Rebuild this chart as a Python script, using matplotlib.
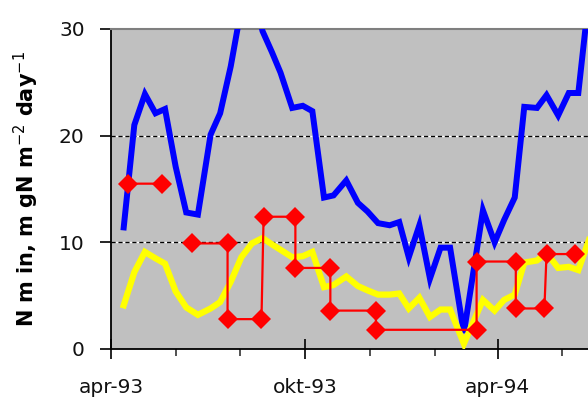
import numpy as np
import pandas as pd
import matplotlib
matplotlib.use("Agg")
import matplotlib.pyplot as plt
import matplotlib.dates as mdates
from matplotlib.ticker import FuncFormatter

# sampling dates shared by the two continuous series
dates = [
    "1993-04-13", "1993-04-23", "1993-05-03", "1993-05-13", "1993-05-22",
    "1993-06-01", "1993-06-11", "1993-06-22", "1993-07-04", "1993-07-13",
    "1993-07-23", "1993-08-02", "1993-08-12", "1993-08-22", "1993-08-31",
    "1993-09-08", "1993-09-19", "1993-09-29", "1993-10-08", "1993-10-19",
    "1993-10-28", "1993-11-09", "1993-11-20", "1993-11-29", "1993-12-09",
    "1993-12-20", "1993-12-29", "1994-01-07", "1994-01-17", "1994-01-27",
    "1994-02-06", "1994-02-15", "1994-02-28", "1994-03-18", "1994-03-29",
    "1994-04-07", "1994-04-17", "1994-04-26", "1994-05-08", "1994-05-17",
    "1994-05-28", "1994-06-07", "1994-06-16", "1994-06-26",
]
blue_vals = [
    11.4, 21.0, 23.9, 22.1, 22.5, 17.1, 12.8, 12.6, 20.1, 22.1,
    26.5, 32.0, 34.0, 29.8, 27.8, 25.9, 22.6, 22.8, 22.3, 14.2,
    14.4, 15.8, 13.7, 12.9, 11.8, 11.6, 11.9, 8.6, 11.6, 6.6,
    9.5, 9.5, 1.5, 13.0, 10.0, 12.1, 14.2, 22.7, 22.6, 23.8,
    21.9, 24.0, 24.0, 33.0,
]
yellow_vals = [
    4.1, 7.2, 9.1, 8.5, 8.0, 5.4, 3.9, 3.2, 3.8, 4.4,
    6.3, 8.6, 9.9, 10.4, 9.8, 9.3, 8.6, 8.7, 9.1, 5.8,
    6.0, 6.8, 5.9, 5.5, 5.1, 5.1, 5.2, 3.8, 4.8, 3.0,
    3.7, 3.7, 0.5, 4.6, 3.6, 4.6, 5.1, 8.1, 8.3, 9.0,
    7.6, 7.7, 7.4, 10.2,
]

# incubation periods: start/end pairs joined by steps, NaN breaks the line
red_dates = [
    "1993-04-17", "1993-05-19", "1993-05-20",
    "1993-06-16", "1993-07-20", "1993-07-20", "1993-08-21", "1993-08-23",
    "1993-09-22", "1993-09-22", "1993-10-25", "1993-10-25", "1993-12-07",
    "1993-12-07", "1994-03-12", "1994-03-12", "1994-04-18", "1994-04-18",
    "1994-05-15", "1994-05-17", "1994-06-13",
]
red_vals = [
    15.5, 15.5, np.nan,
    9.9, 9.9, 2.8, 2.8, 12.4,
    12.4, 7.6, 7.6, 3.6, 3.6,
    1.8, 1.8, 8.2, 8.2, 3.8,
    3.8, 8.9, 8.9,
]

month_names = ["jan", "feb", "mar", "apr", "maj", "jun",
               "jul", "aug", "sep", "okt", "nov", "dec"]
y_ticks = [0, 10, 20, 30]

t = pd.to_datetime(dates)
t_red = pd.to_datetime(red_dates)

fig = plt.figure(figsize=(5.88, 3.98), dpi=100)
ax = fig.add_axes([111 / 588, 49 / 398, 1 - 111 / 588 + 0.002, 320 / 398])
ax.set_facecolor("#c0c0c0")

for y in y_ticks[1:-1]:
    ax.axhline(y, color="white", lw=1.0, zorder=1)
    ax.axhline(y, color="black", lw=1.0, dashes=(3, 2), zorder=1.1)

ax.plot(t, blue_vals, color="#0000ff", lw=4.3, solid_joinstyle="miter", zorder=3)
ax.plot(t, yellow_vals, color="#ffff00", lw=4.5, solid_joinstyle="miter", zorder=4)
ax.plot(t_red, red_vals, color="#ff0000", lw=1.6, marker="D", markersize=10.5,
        markeredgewidth=0, zorder=5)

ax.set_ylim(0, 30)
ax.set_yticks(y_ticks)
ax.set_xlim(pd.Timestamp("1993-04-01"), pd.Timestamp("1994-06-26 06:00"))

ax.xaxis.set_major_locator(mdates.MonthLocator(bymonth=[4, 10]))
ax.xaxis.set_minor_locator(mdates.MonthLocator(bymonth=[2, 6, 8, 12]))
ax.xaxis.set_major_formatter(FuncFormatter(
    lambda x, pos: "%s-%s" % (month_names[mdates.num2date(x).month - 1],
                              mdates.num2date(x).strftime("%y"))))

ax.tick_params(axis="x", which="major", direction="inout", length=14, width=1.2,
               pad=14, labelsize=14.5, colors="black")
ax.tick_params(axis="x", which="minor", direction="out", length=5, width=1.2,
               colors="#333333")
ax.tick_params(axis="y", direction="out", length=8, width=1.2, pad=11,
               labelsize=14.5, colors="black")
for lab in ax.get_xticklabels() + ax.get_yticklabels():
    lab.set_color("#111111")

ax.spines["right"].set_visible(False)
ax.spines["top"].set_color("#7f7f7f")
ax.spines["top"].set_linewidth(1.5)
ax.spines["left"].set_linewidth(1.3)
ax.spines["bottom"].set_linewidth(1.3)

fig.text(26 / 588, 1 - 189 / 398, "N m in, m gN m$^{-2}$ day$^{-1}$",
         rotation=90, ha="center", va="center", fontsize=15, fontweight="bold")

fig.savefig("out.png", dpi=100)
